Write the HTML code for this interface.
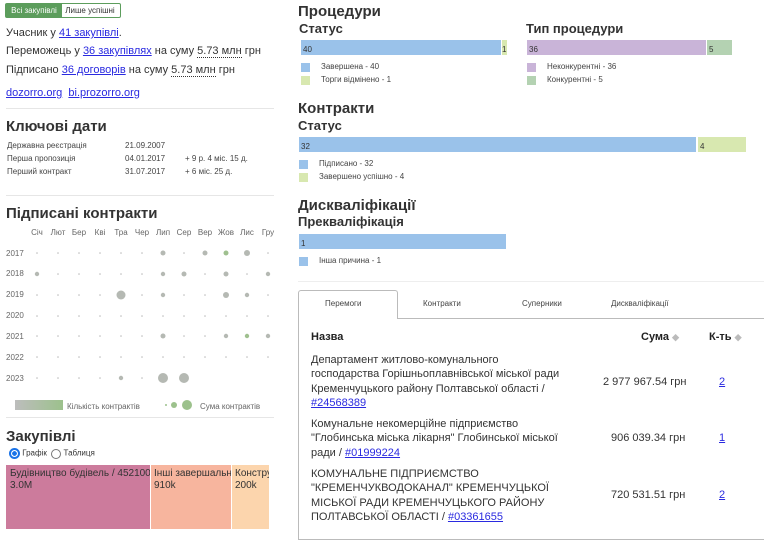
<!DOCTYPE html>
<html><head><meta charset="utf-8"><style>
body{margin:0;width:764px;height:529px;overflow:hidden;background:#fff;font-family:"Liberation Sans",sans-serif;color:#333;position:relative}
.a{position:absolute;white-space:nowrap}
a,.l{color:#2a2ae0;text-decoration:underline}
.dot{border-bottom:1px dotted #333}
.h2{font-weight:bold;font-size:15px;color:#333}
.h3{font-weight:bold;font-size:13px;color:#333}
.s{font-size:8px;color:#444}
.hr{position:absolute;height:1px;background:#e6e6e6}
.bar{position:absolute;height:15px;font-size:8px;line-height:20px;padding-left:2px;box-sizing:border-box;color:#333}
.sq{position:absolute;width:9px;height:9px}
.t{font-size:11px;color:#333;line-height:14.3px}
</style></head><body>
<div class="a" style="left:5px;top:3px;width:114px;height:13px;border:1px solid #5c9d5c;border-radius:2px;font-size:8px;line-height:13px">
<span style="display:inline-block;background:#5c9d5c;color:#fff;width:56px;text-align:center">Всі закупівлі</span><span style="display:inline-block;width:56px;text-align:center">Лише успішні</span></div>
<div class="a" style="left:6px;top:27px;font-size:11px">Учасник у <a>41 закупівлі</a>.</div>
<div class="a" style="left:6px;top:45px;font-size:11px">Переможець у <a>36 закупівлях</a> на суму <span class="dot">5.73 млн</span> грн</div>
<div class="a" style="left:6px;top:64px;font-size:11px">Підписано <a>36 договорів</a> на суму <span class="dot">5.73 млн</span> грн</div>
<div class="a" style="left:6px;top:87px;font-size:11px"><a>dozorro.org</a> &nbsp;<a>bi.prozorro.org</a></div>
<div class="hr" style="left:6px;top:108px;width:268px"></div>
<div class="a h2" style="left:6px;top:118px">Ключові дати</div>
<div class="a s" style="left:7px;top:141px">Державна реєстрація</div><div class="a s" style="left:125px;top:141px">21.09.2007</div>
<div class="a s" style="left:7px;top:154px">Перша пропозиція</div><div class="a s" style="left:125px;top:154px">04.01.2017</div><div class="a s" style="left:185px;top:154px">+ 9 р. 4 міс. 15 д.</div>
<div class="a s" style="left:7px;top:167px">Перший контракт</div><div class="a s" style="left:125px;top:167px">31.07.2017</div><div class="a s" style="left:185px;top:167px">+ 6 міс. 25 д.</div>
<div class="hr" style="left:6px;top:195px;width:268px"></div>
<div class="a h2" style="left:6px;top:205px">Підписані контракти</div>
<svg class="a" style="left:0;top:220px" width="290" height="200" font-family="Liberation Sans" font-size="8" fill="#666">
<g text-anchor="middle">
<text x="37" y="15">Січ</text><text x="58" y="15">Лют</text><text x="79" y="15">Бер</text><text x="100" y="15">Кві</text><text x="121" y="15">Тра</text><text x="142" y="15">Чер</text><text x="163" y="15">Лип</text><text x="184" y="15">Сер</text><text x="205" y="15">Вер</text><text x="226" y="15">Жов</text><text x="247" y="15">Лис</text><text x="268" y="15">Гру</text></g>
<g><text x="6" y="36">2017</text><text x="6" y="56">2018</text><text x="6" y="77">2019</text><text x="6" y="98">2020</text><text x="6" y="119">2021</text><text x="6" y="140">2022</text><text x="6" y="161">2023</text></g>
<g fill="#bbb" id="g"></g>
<g fill="#b5b9b3">
<circle cx="163" cy="33" r="2.5"/><circle cx="205" cy="33" r="2.5"/><circle cx="226" cy="33" r="2.5" fill="#9fc08f"/><circle cx="247" cy="33" r="3"/>
<circle cx="37" cy="54" r="2.2"/><circle cx="163" cy="54" r="2.2"/><circle cx="184" cy="54" r="2.5"/><circle cx="226" cy="54" r="2.5"/><circle cx="268" cy="54" r="2.2"/>
<circle cx="121" cy="75" r="4.5"/><circle cx="163" cy="75" r="2.2"/><circle cx="226" cy="75" r="3"/><circle cx="247" cy="75" r="2.2"/>
<circle cx="163" cy="116" r="2.5"/><circle cx="226" cy="116" r="2.2"/><circle cx="247" cy="116" r="2.2" fill="#9fc08f"/><circle cx="268" cy="116" r="2.2"/>
<circle cx="121" cy="158" r="2.2"/><circle cx="163" cy="158" r="5"/><circle cx="184" cy="158" r="5"/>
</g>
<defs><linearGradient id="lg"><stop offset="0" stop-color="#bdbdbd"/><stop offset="1" stop-color="#9cc18c"/></linearGradient></defs>
<rect x="15" y="180" width="48" height="10" fill="url(#lg)"/>
<text x="67" y="189">Кількість контрактів</text>
<circle cx="166" cy="185" r="1" fill="#9cc18c"/><circle cx="174" cy="185" r="3" fill="#9cc18c"/><circle cx="187" cy="185" r="5" fill="#9cc18c"/>
<text x="200" y="189">Сума контрактів</text>
</svg>
<div class="hr" style="left:6px;top:417px;width:268px"></div>
<div class="a h2" style="left:6px;top:428px">Закупівлі</div>
<div class="a" style="left:9px;top:448px;font-size:8px"><span style="display:inline-block;width:7px;height:7px;border-radius:50%;border:2px solid #1a73e8;background:radial-gradient(#1a73e8 45%,#fff 50%);vertical-align:middle"></span> Графік &nbsp;<span style="display:inline-block;width:8px;height:8px;border-radius:50%;border:1px solid #777;vertical-align:middle"></span> Таблиця</div>
<div class="a" style="left:6px;top:465px;width:144px;height:64px;background:#cc7b9c;font-size:10px;padding:3px 4px;box-sizing:border-box;overflow:hidden;line-height:12px;color:#333">Будівництво будівель / 4521000<br>3.0M</div>
<div class="a" style="left:151px;top:465px;width:80px;height:64px;background:#f7b59e;font-size:10px;padding:3px 3px;box-sizing:border-box;overflow:hidden;line-height:12px">Інші завершальні<br>910k</div>
<div class="a" style="left:232px;top:465px;width:37px;height:64px;background:#fcd5ad;font-size:10px;padding:3px 3px;box-sizing:border-box;overflow:hidden;line-height:12px">Констру<br>200k</div>

<div class="a h2" style="left:298px;top:3px">Процедури</div>
<div class="a h3" style="left:299px;top:21px">Статус</div>
<div class="bar" style="left:301px;top:40px;width:200px;background:#9ac2ea">40</div>
<div class="bar" style="left:502px;top:40px;width:5px;background:#d8e8b0;padding:0">1</div>
<div class="sq" style="left:301px;top:63px;background:#9ac2ea"></div><div class="a s" style="left:321px;top:62px">Завершена - 40</div>
<div class="sq" style="left:301px;top:76px;background:#d8e8b0"></div><div class="a s" style="left:321px;top:75px">Торги відмінено - 1</div>
<div class="a h3" style="left:526px;top:21px">Тип процедури</div>
<div class="bar" style="left:527px;top:40px;width:179px;background:#c9b4d8">36</div>
<div class="bar" style="left:707px;top:40px;width:25px;background:#b4d2b2">5</div>
<div class="sq" style="left:527px;top:63px;background:#c9b4d8"></div><div class="a s" style="left:547px;top:62px">Неконкурентні - 36</div>
<div class="sq" style="left:527px;top:76px;background:#b4d2b2"></div><div class="a s" style="left:547px;top:75px">Конкурентні - 5</div>
<div class="a h2" style="left:298px;top:100px">Контракти</div>
<div class="a h3" style="left:298px;top:118px">Статус</div>
<div class="bar" style="left:299px;top:137px;width:397px;background:#9ac2ea">32</div>
<div class="bar" style="left:698px;top:137px;width:48px;background:#d8e8b0">4</div>
<div class="sq" style="left:299px;top:160px;background:#9ac2ea"></div><div class="a s" style="left:319px;top:159px">Підписано - 32</div>
<div class="sq" style="left:299px;top:173px;background:#d8e8b0"></div><div class="a s" style="left:319px;top:172px">Завершено успішно - 4</div>
<div class="a h2" style="left:298px;top:197px">Дискваліфікації</div>
<div class="a h3" style="left:298px;top:214px">Преквалiфікація</div>
<div class="bar" style="left:299px;top:234px;width:207px;background:#9ac2ea">1</div>
<div class="sq" style="left:299px;top:257px;background:#9ac2ea"></div><div class="a s" style="left:319px;top:256px">Інша причина - 1</div>
<div class="hr" style="left:298px;top:281px;width:466px;background:#eee"></div>
<div class="a" style="left:298px;top:290px;width:98px;height:28px;border:1px solid #bbb;border-bottom:none;border-radius:3px 3px 0 0;background:#fff;z-index:2"></div>
<div class="a" style="left:298px;top:318px;width:465px;height:220px;border:1px solid #bbb"></div>
<div class="a" style="left:299px;top:317px;width:97px;height:3px;background:#fff;z-index:3"></div>
<div class="a" style="left:325px;top:299px;font-size:8px;color:#444;z-index:4">Перемоги</div>
<div class="a" style="left:423px;top:299px;font-size:8px;color:#444">Контракти</div>
<div class="a" style="left:522px;top:299px;font-size:8px;color:#444">Суперники</div>
<div class="a" style="left:611px;top:299px;font-size:8px;color:#444">Дискваліфікації</div>
<div class="a" style="left:311px;top:331px;font-size:11px;font-weight:bold;color:#222">Назва</div>
<div class="a" style="left:641px;top:331px;font-size:11px;font-weight:bold;color:#222">Сума <span style="color:#bbb;font-size:9px">◆</span></div>
<div class="a" style="left:709px;top:331px;font-size:11px;font-weight:bold;color:#222">К-ть <span style="color:#bbb;font-size:9px">◆</span></div>
<div class="a t" style="left:311px;top:353px">Департамент житлово-комунального<br>господарства Горішньоплавнівської міської ради<br>Кременчуцького району Полтавської області /<br><a>#24568389</a></div>
<div class="a t" style="left:603px;top:375px">2 977 967.54 грн</div><div class="a t" style="left:719px;top:375px"><a>2</a></div>
<div class="a t" style="left:311px;top:417px">Комунальне некомерційне підприємство<br>"Глобинська міська лікарня" Глобинської міської<br>ради / <a>#01999224</a></div>
<div class="a t" style="left:611px;top:431px">906 039.34 грн</div><div class="a t" style="left:719px;top:431px"><a>1</a></div>
<div class="a t" style="left:311px;top:467px">КОМУНАЛЬНЕ ПІДПРИЄМСТВО<br>"КРЕМЕНЧУКВОДОКАНАЛ" КРЕМЕНЧУЦЬКОЇ<br>МІСЬКОЇ РАДИ КРЕМЕНЧУЦЬКОГО РАЙОНУ<br>ПОЛТАВСЬКОЇ ОБЛАСТІ / <a>#03361655</a></div>
<div class="a t" style="left:611px;top:488px">720 531.51 грн</div><div class="a t" style="left:719px;top:488px"><a>2</a></div>
<script>
var g=document.getElementById('g'),xs=[37,58,79,100,121,142,163,184,205,226,247,268],ys=[33,54,75,96,116,137,158],s='';
ys.forEach(function(y,i){xs.forEach(function(x,j){if(i==6&&j>7)return;s+='<circle cx="'+x+'" cy="'+y+'" r="0.8"/>';});});
g.innerHTML=s;
</script>
</body></html>
